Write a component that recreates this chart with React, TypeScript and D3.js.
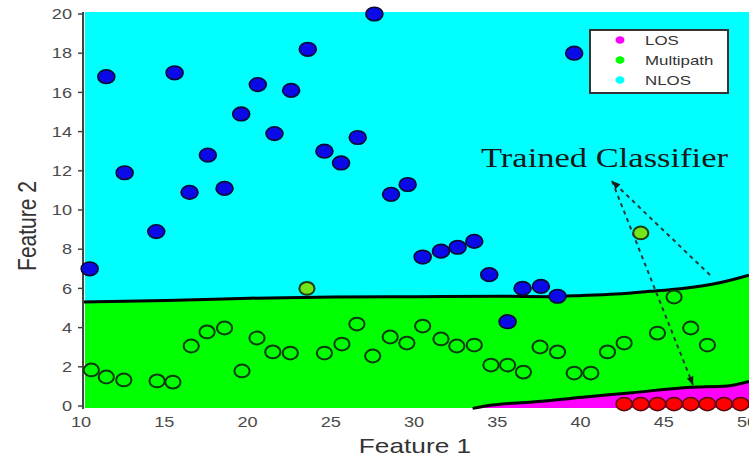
import React from "react";
import * as d3 from "d3";

// ---- data ----
const nlosX = [10.4, 11.4, 12.5, 14.4, 15.5, 16.4, 17.5, 18.5, 19.5, 20.5, 21.5, 22.5, 23.5, 24.5, 25.5, 26.5, 27.5, 28.5, 29.5, 30.4, 31.5, 32.5, 33.5, 34.4, 35.5, 36.4, 37.5, 38.5, 39.5];
const nlosY = [7.0, 16.8, 11.9, 8.9, 17.0, 10.9, 12.8, 11.1, 14.9, 16.4, 13.9, 16.1, 18.2, 13.0, 12.4, 13.7, 20.0, 10.8, 11.3, 7.6, 7.9, 8.1, 8.4, 6.7, 4.3, 6.0, 6.1, 5.6, 18.0];

const multiX = [10.5, 11.4, 12.45, 14.45, 15.4, 16.5, 17.45, 18.5, 19.55, 20.45, 21.4, 22.45, 24.5, 25.55, 26.45, 27.4, 28.45, 29.45, 30.4, 31.5, 32.45, 33.5, 34.5, 35.5, 36.45, 37.45, 38.5, 39.5, 40.5, 41.5, 42.5, 44.5, 45.5, 46.5, 47.5];
const multiY = [1.84, 1.48, 1.33, 1.28, 1.22, 3.06, 3.78, 3.98, 1.79, 3.47, 2.76, 2.7, 2.7, 3.16, 4.18, 2.55, 3.52, 3.21, 4.08, 3.42, 3.06, 3.11, 2.09, 2.09, 1.73, 3.01, 2.76, 1.68, 1.68, 2.76, 3.21, 3.72, 5.56, 3.98, 3.11];

const multiMisX = [23.45, 43.5];
const multiMisY = [6.0, 8.83];

const losX = [42.5, 43.5, 44.5, 45.5, 46.5, 47.5, 48.5, 49.5];
const losY = [0.1, 0.1, 0.1, 0.1, 0.1, 0.1, 0.1, 0.1];

const bound1X = [10, 15, 20, 25, 30, 35, 38, 40, 42, 44, 46, 48, 50];
const bound1Y = [5.3, 5.38, 5.5, 5.56, 5.58, 5.6, 5.58, 5.64, 5.72, 5.85, 6.0, 6.25, 6.68];

const bound2X = [33.4, 34.6, 37, 40, 43, 46.3, 48.7, 50];
const bound2Y = [-0.12, 0.05, 0.2, 0.45, 0.68, 0.95, 1.02, 1.25];

const xTicks = [10, 15, 20, 25, 30, 35, 40, 45, 50];
const yTicks = [0, 2, 4, 6, 8, 10, 12, 14, 16, 18, 20];

const legendLabels = ["LOS", "Multipath", "NLOS"];
const legendColors = ["#ff00ff", "#00ff00", "#00ffff"];

const arrowTip = [41.77, 11.48];
const arrowFromA = [47.66, 6.68];
const arrowToB = [46.64, 1.07];

const W = 749;
const H = 458;

const x = d3.scaleLinear().domain([10, 50]).range([83, 749]);
const y = d3.scaleLinear().domain([0, 20]).range([406, 14]);

const SX = 1.25; // horizontal stretch of the original image

function ArrowHead({ from, to, size = 9 }: { from: number[]; to: number[]; size?: number }) {
  const x1 = x(from[0]), y1 = y(from[1]);
  const x2 = x(to[0]), y2 = y(to[1]);
  const ang = Math.atan2(y2 - y1, x2 - x1);
  const a1 = ang + Math.PI - 0.4;
  const a2 = ang + Math.PI + 0.4;
  const p = [
    [x2, y2],
    [x2 + size * Math.cos(a1), y2 + size * Math.sin(a1)],
    [x2 + size * Math.cos(a2), y2 + size * Math.sin(a2)],
  ];
  return <polygon points={p.map((q) => q.join(",")).join(" ")} fill="#1a1a1a" />;
}

export default function App() {
  const b1 = bound1X.map((v, i) => [v, bound1Y[i]] as [number, number]);
  const b2 = bound2X.map((v, i) => [v, bound2Y[i]] as [number, number]);

  const line = d3
    .line<[number, number]>()
    .x((d) => x(d[0]))
    .y((d) => y(d[1]))
    .curve(d3.curveMonotoneX);
  const area = d3
    .area<[number, number]>()
    .x((d) => x(d[0]))
    .y0(y(0) + 2)
    .y1((d) => y(d[1]))
    .curve(d3.curveMonotoneX);

  const plotLeft = x(10) + 2;
  const plotTop = y(20) - 2;
  const plotBottom = y(0) + 2;

  return (
    <svg
      width={W}
      height={H}
      style={{ position: "absolute", left: 0, top: 0, background: "#fff" }}
      fontFamily="Arial, 'Liberation Sans', sans-serif"
    >
      <defs>
        <clipPath id="plotClip">
          <rect x={plotLeft} y={plotTop} width={W - plotLeft} height={plotBottom - plotTop} />
        </clipPath>
      </defs>

      <g clipPath="url(#plotClip)">
        <rect x={plotLeft} y={plotTop} width={W - plotLeft} height={plotBottom - plotTop} fill="#00ffff" />
        <path d={area(b1) || ""} fill="#00ff00" />
        <path d={area(b2) || ""} fill="#ff00ff" />
      </g>
      <path d={line(b1) || ""} fill="none" stroke="#000" strokeWidth={3} />
      <path d={line(b2) || ""} fill="none" stroke="#000" strokeWidth={3} />

      {/* y axis */}
      <line x1={x(10)} x2={x(10)} y1={plotTop} y2={plotBottom + 1} stroke="#444" strokeWidth={2} />
      {yTicks.map((t) => (
        <g key={"y" + t}>
          <line x1={x(10) - 5} x2={x(10)} y1={y(t)} y2={y(t)} stroke="#444" strokeWidth={1.5} />
          <text
            transform={`translate(72,${y(t)}) scale(${SX},1)`}
            textAnchor="end"
            dy="0.36em"
            fontSize={14.5}
            fill="#4a4a4a"
          >
            {t}
          </text>
        </g>
      ))}
      {xTicks.map((t) => (
        <text
          key={"x" + t}
          transform={`translate(${x(t) - 2},427) scale(${SX},1)`}
          textAnchor="middle"
          fontSize={14.5}
          fill="#4a4a4a"
        >
          {t}
        </text>
      ))}

      <text transform={`translate(415,453) scale(${SX},1)`} textAnchor="middle" fontSize={21} fill="#333">
        Feature 1
      </text>
      <text transform={`translate(36,226) scale(${SX},1) rotate(-90)`} textAnchor="middle" fontSize={21} fill="#333">
        Feature 2
      </text>

      {/* points */}
      <g>
        {nlosX.map((v, i) => (
          <ellipse key={"n" + i} cx={x(v)} cy={y(nlosY[i])} rx={8.5} ry={6.8} fill="#0a0ae8" stroke="#0a0a30" strokeWidth={1.6} />
        ))}
        {multiX.map((v, i) => (
          <ellipse key={"m" + i} cx={x(v)} cy={y(multiY[i])} rx={7.6} ry={6.4} fill="none" stroke="#0b3a0b" strokeWidth={2} />
        ))}
        {multiMisX.map((v, i) => (
          <ellipse key={"mm" + i} cx={x(v)} cy={y(multiMisY[i])} rx={7.6} ry={6.4} fill="#72e61a" stroke="#1f3d10" strokeWidth={2} />
        ))}
        {losX.map((v, i) => (
          <ellipse key={"l" + i} cx={x(v)} cy={y(losY[i])} rx={8.2} ry={6.6} fill="#ff0000" stroke="#5a0a0a" strokeWidth={1.5} />
        ))}
      </g>

      {/* annotation */}
      <line
        x1={x(arrowFromA[0])}
        y1={y(arrowFromA[1])}
        x2={x(arrowTip[0])}
        y2={y(arrowTip[1])}
        stroke="#2a3a3a"
        strokeWidth={2}
        strokeDasharray="4,4"
      />
      <line
        x1={x(arrowTip[0])}
        y1={y(arrowTip[1])}
        x2={x(arrowToB[0])}
        y2={y(arrowToB[1])}
        stroke="#2a3a3a"
        strokeWidth={2}
        strokeDasharray="4,4"
      />
      <ArrowHead from={arrowFromA} to={arrowTip} />
      <ArrowHead from={arrowTip} to={arrowToB} />
      <text
        x={481}
        y={167}
        fontFamily="'Liberation Serif', 'Times New Roman', serif"
        fontSize={27}
        fill="#1a1a1a"
        textLength={247}
        lengthAdjust="spacingAndGlyphs"
      >
        Trained Classifier
      </text>

      {/* legend */}
      <rect x={590} y={30} width={138} height={63} fill="#fff" stroke="#333" strokeWidth={2} />
      {legendLabels.map((lab, i) => (
        <g key={lab}>
          <ellipse cx={620} cy={40 + i * 20} rx={4.5} ry={3.8} fill={legendColors[i]} />
          <text
            transform={`translate(645,${40 + i * 20}) scale(${SX},1)`}
            dy="0.36em"
            fontSize={13.5}
            fill="#333"
          >
            {lab}
          </text>
        </g>
      ))}
    </svg>
  );
}
